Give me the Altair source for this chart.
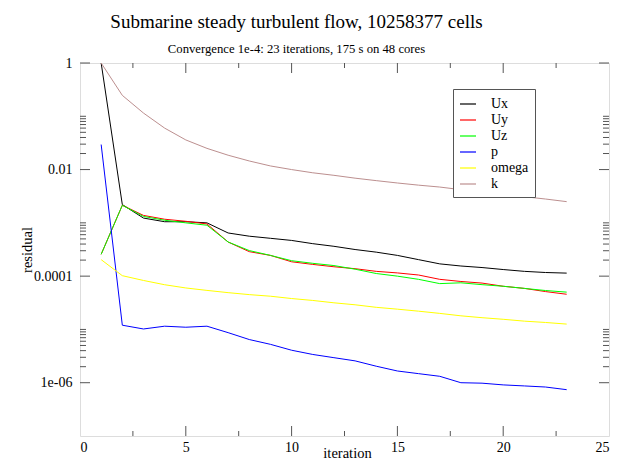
import altair as alt
import pandas as pd

iterations = list(range(1, 24))
series_names = ["Ux", "Uy", "Uz", "p", "omega", "k"]
series_colors = ["#000000", "#ff0000", "#00ff00", "#0000ff", "#ffff00", "#bc8f8f"]

Ux = [1.0, 0.0022, 0.00123, 0.00105, 0.00105, 0.00100, 0.000646, 0.000562, 0.000513, 0.000468,
      0.000407, 0.000363, 0.000316, 0.000282, 0.000245, 0.000204, 0.000170, 0.000155, 0.000145,
      0.000133, 0.000123, 0.000117, 0.000114]
Uy = [0.000257, 0.00214, 0.00138, 0.00117, 0.00107, 0.000955, 0.000437, 0.000288, 0.000245, 0.000186,
      0.000166, 0.000150, 0.000138, 0.000123, 0.000115, 0.000105, 0.0000871, 0.0000794, 0.0000741,
      0.0000646, 0.0000589, 0.0000513, 0.0000457]
Uz = [0.000257, 0.00214, 0.00132, 0.00112, 0.00100, 0.000902, 0.000437, 0.000302, 0.000245, 0.000195,
      0.000174, 0.000158, 0.000135, 0.000112, 0.000100, 0.0000871, 0.0000724, 0.0000750, 0.0000692,
      0.0000646, 0.0000589, 0.0000537, 0.0000501]
p = [0.0295, 1.20e-5, 1.02e-5, 1.15e-5, 1.10e-5, 1.15e-5, 8.7e-6, 6.46e-6, 5.25e-6, 4.07e-6,
     3.39e-6, 2.95e-6, 2.57e-6, 2.04e-6, 1.66e-6, 1.48e-6, 1.32e-6, 1.00e-6, 9.8e-7,
     9.1e-7, 8.7e-7, 8.3e-7, 7.4e-7]
omega = [0.000204, 0.000102, 8.3e-5, 6.9e-5, 6.0e-5, 5.4e-5, 4.9e-5, 4.5e-5, 4.2e-5, 3.8e-5,
         3.5e-5, 3.16e-5, 2.9e-5, 2.6e-5, 2.4e-5, 2.2e-5, 2.0e-5, 1.8e-5, 1.66e-5,
         1.55e-5, 1.43e-5, 1.35e-5, 1.26e-5]
k = [1.0, 0.247, 0.115, 0.060, 0.036, 0.025, 0.0186, 0.0145, 0.0117, 0.0100,
     0.0087, 0.0078, 0.0069, 0.0062, 0.0056, 0.0051, 0.0047, 0.0042, 0.0038,
     0.0035, 0.0031, 0.0028, 0.0025]

x_labels = [0, 5, 10, 15, 20, 25]
x_major = [5, 10, 15, 20]
x_minor = [2.5, 7.5, 12.5, 17.5, 22.5]
y_labels = [1, 0.01, 0.0001, 1e-6]
y_minor = [m * 10.0 ** e for e in (-2, -4, -6) for m in range(2, 11)]

W, H = 529, 373
FONT = "Liberation Serif"
FRAME = "#555555"

rows = []
for name, vals in zip(series_names, [Ux, Uy, Uz, p, omega, k]):
    for it, v in zip(iterations, vals):
        rows.append({"iteration": it, "residual": v, "series": name})
df = pd.DataFrame(rows)

xscale = alt.Scale(domain=[0, 25], nice=False, zero=False)
yscale = alt.Scale(type="log", domain=[1e-7, 1], nice=False)

xaxis = alt.Axis(values=x_labels, ticks=False, domain=False, grid=False,
                 labelFont=FONT, labelFontSize=14, labelPadding=4, labelColor="black",
                 title="iteration", titleFont=FONT, titleFontSize=14.5,
                 titleFontWeight="normal", titleColor="black",
                 titleX=267, titleY=21, titleBaseline="alphabetic")
yaxis = alt.Axis(values=y_labels, ticks=False, domain=False, grid=False,
                 labelExpr="datum.value > 0.5 ? '1' : datum.value > 0.005 ? '0.01' : datum.value > 0.00005 ? '0.0001' : '1e-06'",
                 labelFont=FONT, labelFontSize=14, labelPadding=8, labelColor="black",
                 title="residual", titleFont=FONT, titleFontSize=14.5,
                 titleFontWeight="normal", titleColor="black",
                 titleX=-53, titleY=H / 2, titleAngle=-90,
                 titleAlign="center", titleBaseline="middle")

lines = alt.Chart(df).mark_line(strokeWidth=1, clip=True).encode(
    x=alt.X("iteration:Q", scale=xscale, axis=xaxis),
    y=alt.Y("residual:Q", scale=yscale, axis=yaxis),
    color=alt.Color("series:N",
                    scale=alt.Scale(domain=series_names, range=series_colors),
                    sort=series_names,
                    legend=alt.Legend(title=None, orient="none", legendX=373, legendY=26,
                                      strokeColor=FRAME, fillColor="white", padding=6,
                                      symbolType="stroke", symbolSize=256, symbolStrokeWidth=1.2,
                                      labelFont=FONT, labelFontSize=14, labelOffset=14,
                                      rowPadding=0, labelColor="black")),
)

ymaj = pd.DataFrame({"v": y_labels})
ymin = pd.DataFrame({"v": y_minor})
xmaj = pd.DataFrame({"v": x_major})
xmin = pd.DataFrame({"v": x_minor})

def yticks(data, length):
    left = alt.Chart(data).mark_rule(color=FRAME, strokeWidth=1).encode(
        y=alt.Y("v:Q", scale=yscale, axis=yaxis), x=alt.value(0), x2=alt.value(length))
    right = alt.Chart(data).mark_rule(color=FRAME, strokeWidth=1).encode(
        y=alt.Y("v:Q", scale=yscale, axis=yaxis), x=alt.value(W - length), x2=alt.value(W))
    return [left, right]

def xticks(data, length):
    bottom = alt.Chart(data).mark_rule(color=FRAME, strokeWidth=1).encode(
        x=alt.X("v:Q", scale=xscale, axis=xaxis), y=alt.value(H - length), y2=alt.value(H))
    top = alt.Chart(data).mark_rule(color=FRAME, strokeWidth=1).encode(
        x=alt.X("v:Q", scale=xscale, axis=xaxis), y=alt.value(0), y2=alt.value(length))
    return [bottom, top]

layers = [lines] + yticks(ymaj, 10) + yticks(ymin, 6) + xticks(xmaj, 10) + xticks(xmin, 5)

chart = alt.layer(*layers).properties(
    width=W, height=H,
    autosize=alt.AutoSizeParams(type="none"),
    padding={"left": 72, "top": 55, "right": 1, "bottom": 26},
    title=alt.TitleParams(
        text="Submarine steady turbulent flow, 10258377 cells",
        subtitle="Convergence 1e-4: 23 iterations, 175 s on 48 cores",
        font=FONT, fontSize=19, fontWeight="normal", color="black",
        subtitleFont=FONT, subtitleFontSize=12.7, subtitleColor="black",
        subtitlePadding=11.5, anchor="middle", dx=-48, offset=0),
).configure_view(stroke=FRAME, strokeWidth=1.5).configure(background="white")

chart.save("out.html", embed_options={"renderer": "svg", "actions": False})
